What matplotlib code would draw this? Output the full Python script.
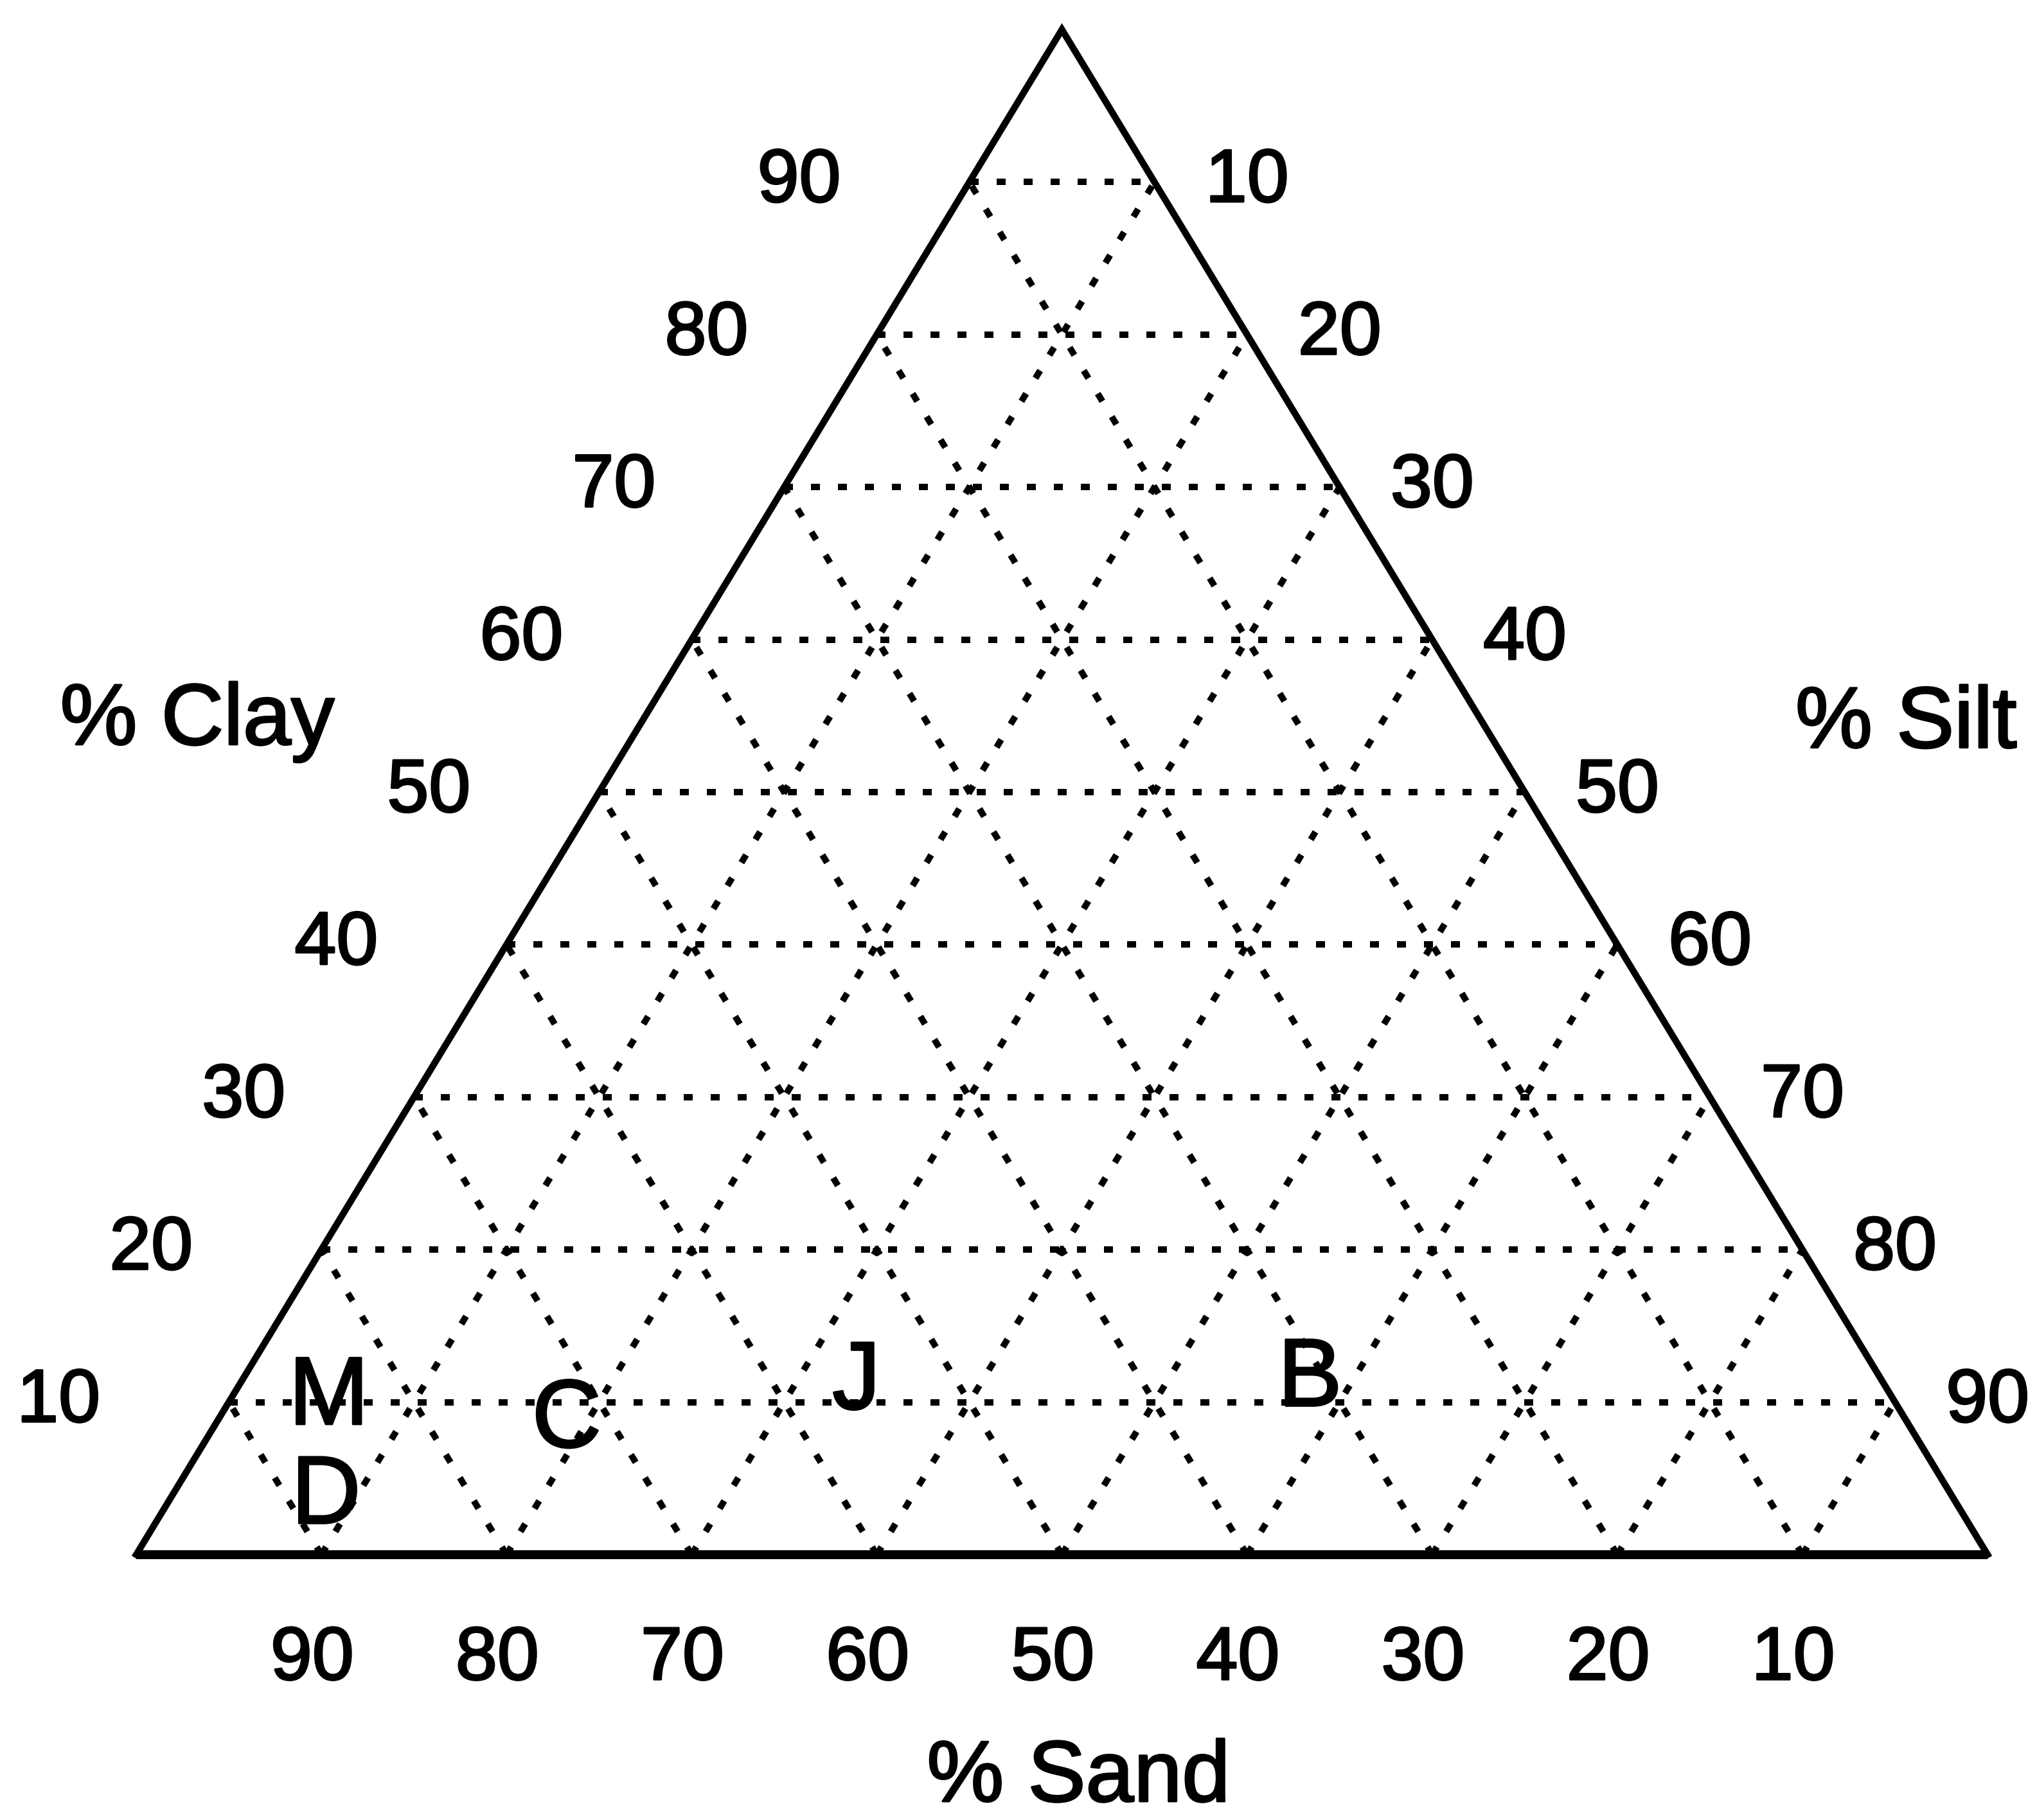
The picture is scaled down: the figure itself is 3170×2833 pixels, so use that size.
import numpy as np
import matplotlib.pyplot as plt
import matplotlib.patheffects as pe

plt.rcParams['font.family'] = ['Liberation Sans', 'DejaVu Sans']

# sample compositions (% sand, % silt, % clay)
samples = ['M', 'D', 'C', 'J', 'B']
sand = [84.5, 87.9, 72.4, 55.5, 30.9]
silt = [5.3, 8.4, 18.9, 33.3, 57.7]
clay = [10.2, 3.7, 8.7, 11.2, 11.4]

grid_vals = [10, 20, 30, 40, 50, 60, 70, 80, 90]


def tern(si, cl):
    # silt-clay pair -> plane coordinates (sand apex at left, clay at top)
    return si + cl / 2.0, cl


fig = plt.figure(figsize=(31.7, 28.33), dpi=100)
ax = fig.add_axes([0, 0, 1, 1])
ax.set_xlim(-7.36, 102.67)
ax.set_ylim(-17.4, 101.94)
ax.axis('off')

grid_kw = dict(color='black', lw=7.2, linestyle=(0, (1.4, 2.8)), dash_capstyle='butt')

for v in grid_vals:
    # constant clay (horizontal)
    x0, y0 = tern(0, v)
    x1, y1 = tern(100 - v, v)
    ax.plot([x0, x1], [y0, y1], **grid_kw)
    # constant silt
    x0, y0 = tern(v, 0)
    x1, y1 = tern(v, 100 - v)
    ax.plot([x0, x1], [y0, y1], **grid_kw)
    # constant sand
    x0, y0 = tern(100 - v, 0)
    x1, y1 = tern(0, 100 - v)
    ax.plot([x0, x1], [y0, y1], **grid_kw)

# outline
ax.plot([0, 50, 100], [0, 100, 0], color='black', lw=7.5, solid_joinstyle='miter')
ax.plot([0, 100], [0, 0], color='black', lw=10, solid_capstyle='butt')

heavy = [pe.withStroke(linewidth=2.2, foreground='black')]

tick_fs = 84
for v in grid_vals:
    # clay along left edge
    x, y = tern(0, v)
    ax.text(x - 9.2, y, str(v), fontsize=tick_fs, ha='center', va='center',
            path_effects=heavy)
    # silt along right edge
    x, y = tern(v, 100 - v)
    ax.text(x + 5.0, y, str(v), fontsize=tick_fs, ha='center', va='center',
            path_effects=heavy)
    # sand along base
    x, y = tern(100 - v, 0)
    ax.text(x - 0.5, y - 6.9, str(v), fontsize=tick_fs, ha='center', va='center',
            path_effects=heavy)

ax.text(3.3, 54.6, '% Clay', fontsize=97, ha='center', va='center', path_effects=heavy)
ax.text(95.6, 54.4, '% Silt', fontsize=97, ha='center', va='center', path_effects=heavy)
ax.text(50.9, -14.7, '% Sand', fontsize=97, ha='center', va='center', path_effects=heavy)

for name, si, cl in zip(samples, silt, clay):
    x, y = tern(si, cl)
    ax.text(x, y, name, fontsize=108, ha='center', va='center', path_effects=heavy)

fig.savefig('out.png', dpi=100, facecolor='white')
